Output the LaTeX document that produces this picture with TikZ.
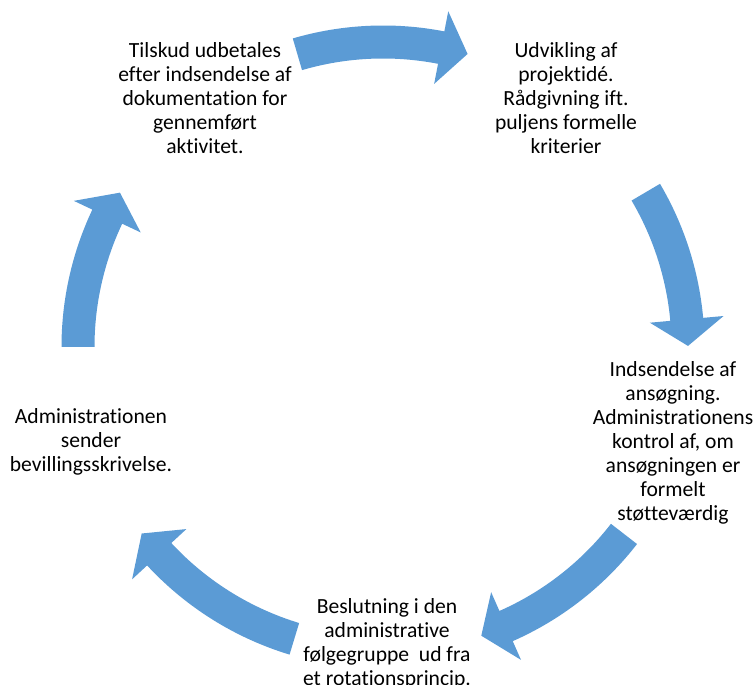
\documentclass[tikz,border=0pt]{standalone}
\usepackage{fontspec}
\setmainfont{Carlito}[Ligatures={NoCommon}]
\definecolor{arrowblue}{RGB}{91,155,213}
\tikzset{cyctext/.style={align=center, inner sep=0pt, text=black, font=\fontsize{21.6}{24}\selectfont}}
% tail angle, head base angle, tip angle
\newcommand{\cyclearrow}[3]{%
  \fill[arrowblue] (#1:321.5pt) arc[start angle=#1, end angle=#2, radius=321.5pt]
    -- (#2:342pt) -- (#3:305pt) -- (#2:268pt) -- (#2:288.5pt)
    arc[start angle=#2, end angle=#1, radius=288.5pt] -- cycle;}
\begin{document}
\begin{tikzpicture}[x=1pt,y=1pt]
\useasboundingbox (0,0) rectangle (755,685);
\begin{scope}[shift={(383,338)}]
  \cyclearrow{106.3}{79}{73.9}
  \cyclearrow{30.5}{5.2}{0.2}
  \cyclearrow{-37.8}{-66.2}{-71.2}
  \cyclearrow{-106.9}{-137.2}{-142.3}
  \cyclearrow{180}{154.7}{149.6}
\end{scope}
\node[cyctext] (n1) at (205,587) {Tilskud udbetales\\efter indsendelse af\\dokumentation for\\gennemført\\aktivitet.};
\node[cyctext] (n2) at (566,587) {Udvikling af\\projektidé.\\Rådgivning ift.\\puljens formelle\\kriterier};
\node[cyctext] (n3) at (673,242) {Indsendelse af\\ansøgning.\\Administrationens\\kontrol af, om\\ansøgningen er\\formelt\\støtteværdig};
\node[cyctext] (n4) at (387,41) {Beslutning i den\\administrative\\følgegruppe~ ud fra\\et rotationsprincip.};
\node[cyctext] (n5) at (91,243) {Administrationen\\sender\\bevillingsskrivelse.};
\end{tikzpicture}
\end{document}
